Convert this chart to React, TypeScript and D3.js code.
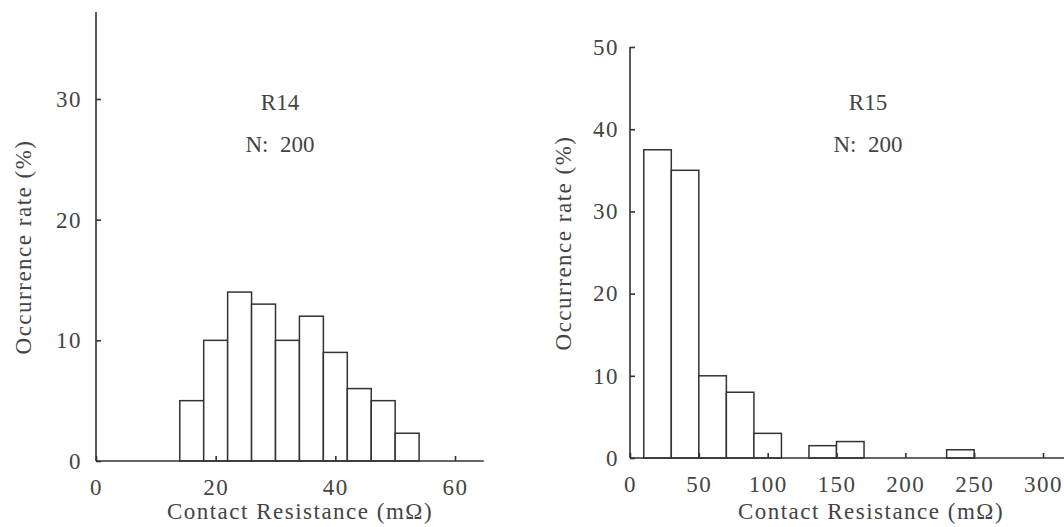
import { useRef, useEffect } from "react";
import * as d3 from "d3";

// R14 histogram: bin starts (mΩ), bin width 4, occurrence rate (%)
const r14BinStart = [14, 18, 22, 26, 30, 34, 38, 42, 46, 50];
const r14Rate = [5, 10, 14, 13, 10, 12, 9, 6, 5, 2.3];
const r14BinWidth = 4;
const r14XTicks = [0, 20, 40, 60];
const r14YTicks = [0, 10, 20, 30];

// R15 histogram: bin width 20
const r15BinStart = [10, 30, 50, 70, 90, 130, 150, 230];
const r15Rate = [37.5, 35, 10, 8, 3, 1.5, 2, 1];
const r15BinWidth = 20;
const r15XTicks = [0, 50, 100, 150, 200, 250, 300];
const r15YTicks = [0, 10, 20, 30, 40, 50];

const FONT = "'Liberation Serif', 'Times New Roman', serif";
const INK = "#333";
const TEXT = "#444";

interface PanelSpec {
  name: string;
  binStart: number[];
  rate: number[];
  binWidth: number;
  xTicks: number[];
  yTicks: number[];
  xDomain: [number, number];
  xRange: [number, number];
  yDomain: [number, number];
  yRange: [number, number];
  xEnd: number; // axis line extent (data units)
  yEnd: number;
  yLabelPad: number;
  labelX: number;
  yTitleX: number;
  yTitleY: number;
  xTitleX: number;
}

const panels: PanelSpec[] = [
  {
    name: "R14",
    binStart: r14BinStart,
    rate: r14Rate,
    binWidth: r14BinWidth,
    xTicks: r14XTicks,
    yTicks: r14YTicks,
    xDomain: [0, 60],
    xRange: [96, 455],
    yDomain: [0, 30],
    yRange: [461, 99],
    xEnd: 64.8,
    yEnd: 37.2,
    yLabelPad: 14,
    labelX: 280,
    yTitleX: 31,
    yTitleY: 247,
    xTitleX: 300,
  },
  {
    name: "R15",
    binStart: r15BinStart,
    rate: r15Rate,
    binWidth: r15BinWidth,
    xTicks: r15XTicks,
    yTicks: r15YTicks,
    xDomain: [0, 300],
    xRange: [630, 1043],
    yDomain: [0, 50],
    yRange: [458, 47],
    xEnd: 330,
    yEnd: 50,
    yLabelPad: 11,
    labelX: 868,
    yTitleX: 571,
    yTitleY: 243,
    xTitleX: 871,
  },
];

export default function App() {
  const svgRef = useRef<SVGSVGElement>(null);

  useEffect(() => {
    if (!svgRef.current) return;
    const svg = d3.select(svgRef.current);
    svg.selectAll("*").remove();

    panels.forEach((p) => {
      const x = d3.scaleLinear().domain(p.xDomain).range(p.xRange);
      const y = d3.scaleLinear().domain(p.yDomain).range(p.yRange);
      const g = svg.append("g");

      // Bars
      g.selectAll(".bar")
        .data(p.binStart.map((s, i) => ({ s, v: p.rate[i] })))
        .enter()
        .append("rect")
        .attr("x", (d) => x(d.s))
        .attr("y", (d) => y(d.v))
        .attr("width", (d) => x(d.s + p.binWidth) - x(d.s))
        .attr("height", (d) => y(0) - y(d.v))
        .attr("fill", "#fff")
        .attr("stroke", INK)
        .attr("stroke-width", 1.5);

      // Axis lines
      g.append("line")
        .attr("x1", x(0))
        .attr("x2", x(p.xEnd))
        .attr("y1", y(0))
        .attr("y2", y(0))
        .attr("stroke", INK)
        .attr("stroke-width", 1.6);
      g.append("line")
        .attr("x1", x(0))
        .attr("x2", x(0))
        .attr("y1", y(0))
        .attr("y2", y(p.yEnd))
        .attr("stroke", INK)
        .attr("stroke-width", 1.6);

      // X axis ticks (inside)
      g.append("g")
        .attr("transform", `translate(0,${y(0)})`)
        .call(
          d3
            .axisBottom(x)
            .tickValues(p.xTicks)
            .tickSize(-5)
            .tickPadding(18)
            .tickFormat((d) => String(d))
        )
        .call((a) => a.select(".domain").remove())
        .call((a) => a.selectAll(".tick line").attr("stroke", INK).attr("stroke-width", 1.6))
        .call((a) =>
          a
            .selectAll(".tick text")
            .attr("font-family", FONT)
            .attr("font-size", 23)
            .attr("letter-spacing", 1.5)
            .attr("fill", TEXT)
        );

      // Y axis ticks (inside)
      g.append("g")
        .attr("transform", `translate(${x(0)},0)`)
        .call(
          d3
            .axisLeft(y)
            .tickValues(p.yTicks)
            .tickSize(-5)
            .tickPadding(p.yLabelPad)
            .tickFormat((d) => String(d))
        )
        .call((a) => a.select(".domain").remove())
        .call((a) => a.selectAll(".tick line").attr("stroke", INK).attr("stroke-width", 1.6))
        .call((a) =>
          a
            .selectAll(".tick text")
            .attr("font-family", FONT)
            .attr("font-size", 23)
            .attr("letter-spacing", 1.5)
            .attr("fill", TEXT)
        );

      // Sample label
      g.append("text")
        .attr("x", p.labelX)
        .attr("y", 110)
        .attr("text-anchor", "middle")
        .attr("font-family", FONT)
        .attr("font-size", 23)
        .attr("fill", TEXT)
        .text(p.name);
      g.append("text")
        .attr("x", p.labelX)
        .attr("y", 152)
        .attr("text-anchor", "middle")
        .attr("font-family", FONT)
        .attr("font-size", 23)
        .attr("fill", TEXT)
        .style("white-space", "pre")
        .text("N:  200");

      // Axis titles
      g.append("text")
        .attr("transform", `translate(${p.yTitleX},${p.yTitleY}) rotate(-90)`)
        .attr("text-anchor", "middle")
        .attr("font-family", FONT)
        .attr("font-size", 23)
        .attr("letter-spacing", 1.5)
        .attr("fill", TEXT)
        .text("Occurrence rate (%)");
      g.append("text")
        .attr("x", p.xTitleX)
        .attr("y", 519)
        .attr("text-anchor", "middle")
        .attr("font-family", FONT)
        .attr("font-size", 23)
        .attr("letter-spacing", 1.5)
        .attr("fill", TEXT)
        .text("Contact Resistance (mΩ)");
    });
  }, []);

  return (
    <svg
      ref={svgRef}
      width={1064}
      height={527}
      style={{ position: "absolute", left: 0, top: 0, background: "#fff" }}
    />
  );
}
